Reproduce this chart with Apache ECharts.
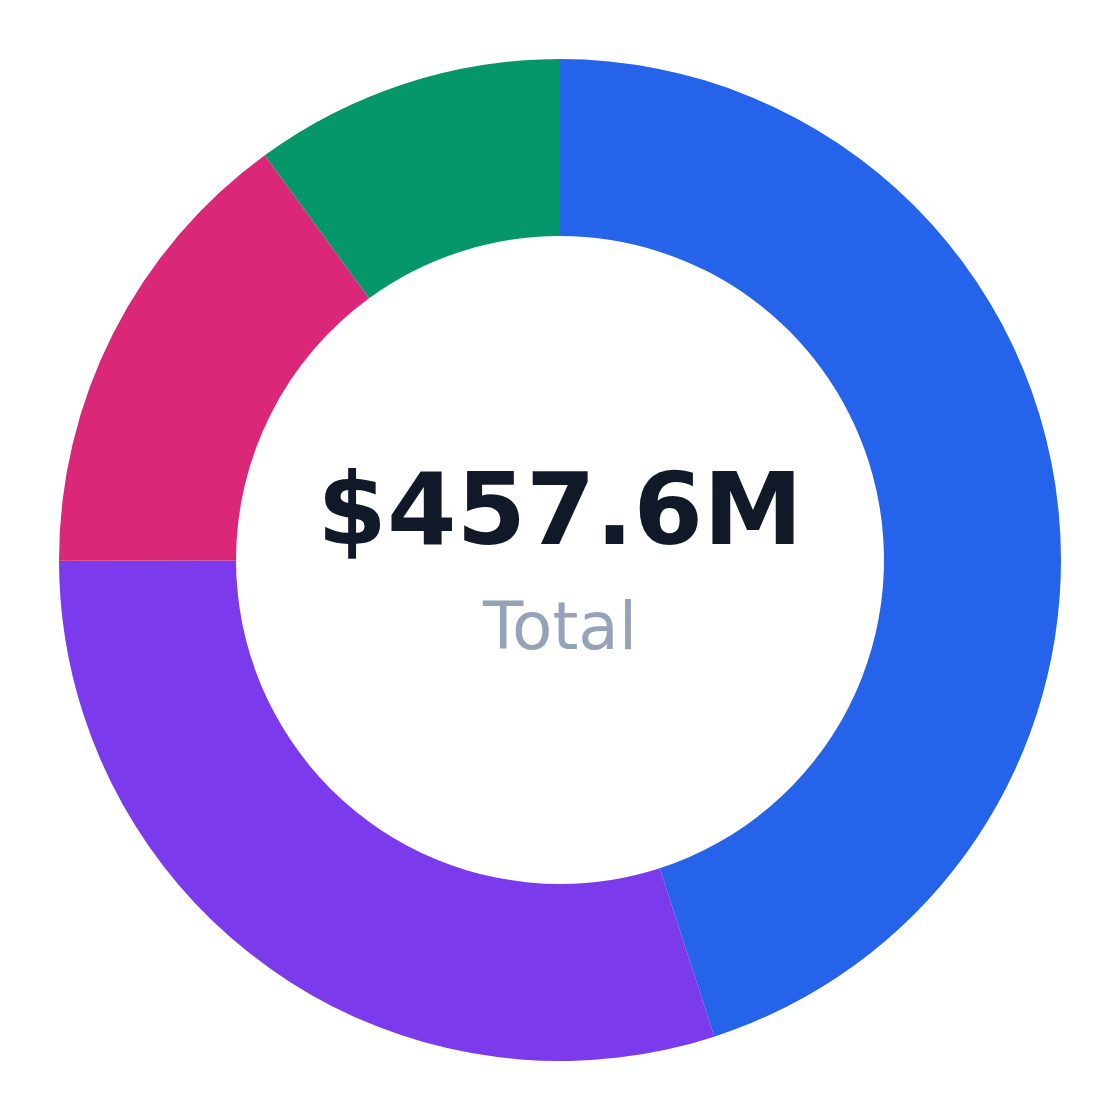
<!DOCTYPE html>
<html>
<head>
<meta charset="utf-8">
<script src="https://cdn.jsdelivr.net/npm/echarts@6/dist/echarts.min.js"></script>
<style>
html,body{margin:0;padding:0;background:#fff;}
#chart{width:1120px;height:1120px;}
</style>
</head>
<body>
<div id="chart"></div>
<script>
var categories = ['Segment A', 'Segment B', 'Segment C', 'Segment D'];
var values = [206.0, 137.1, 68.6, 45.9];
var colors = ['#2563eb', '#7c3aed', '#db2777', '#059669'];
var totalLabel = '$457.6M';
var subLabel = 'Total';

var chart = echarts.init(document.getElementById('chart'), null, {renderer: 'canvas'});
chart.setOption({
  animation: false,
  backgroundColor: '#ffffff',
  series: [{
    type: 'pie',
    center: [560, 560],
    radius: [324, 501],
    startAngle: 90,
    clockwise: true,
    avoidLabelOverlap: false,
    label: {show: false},
    labelLine: {show: false},
    emphasis: {disabled: true},
    itemStyle: {borderWidth: 0},
    data: categories.map(function (c, i) {
      return {name: c, value: values[i], itemStyle: {color: colors[i]}};
    })
  }],
  graphic: [
    {
      type: 'text',
      left: 'center',
      top: 468,
      style: {
        text: totalLabel,
        font: 'bold 100px "DejaVu Sans"',
        fill: '#111827',
        align: 'center'
      }
    },
    {
      type: 'text',
      left: 'center',
      top: 599,
      style: {
        text: subLabel,
        font: '66px "DejaVu Sans"',
        fill: '#94a3b8',
        align: 'center'
      }
    }
  ]
});
</script>
</body>
</html>
